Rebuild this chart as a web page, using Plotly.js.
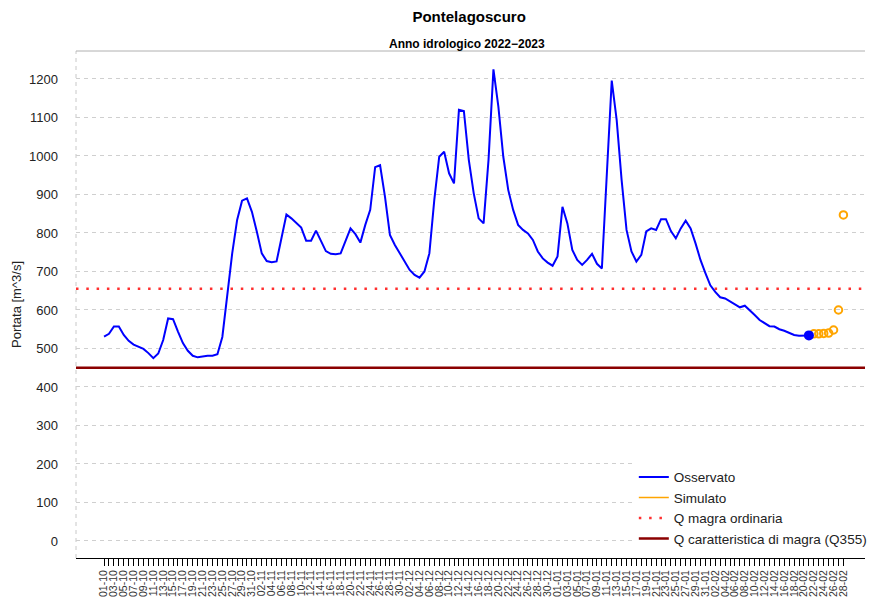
<!DOCTYPE html>
<html><head><meta charset="utf-8">
<script src="https://cdn.plot.ly/plotly-3.0.1.min.js"></script>
<style>html,body{margin:0;padding:0;background:#fff;overflow:hidden}#chart{width:872px;height:603px}</style>
</head><body><div id="chart"></div>
<script>
const days = [
"01-10","02-10","03-10","04-10","05-10","06-10","07-10","08-10","09-10","10-10",
"11-10","12-10","13-10","14-10","15-10","16-10","17-10","18-10","19-10","20-10",
"21-10","22-10","23-10","24-10","25-10","26-10","27-10","28-10","29-10","30-10","31-10",
"01-11","02-11","03-11","04-11","05-11","06-11","07-11","08-11","09-11","10-11",
"11-11","12-11","13-11","14-11","15-11","16-11","17-11","18-11","19-11","20-11",
"21-11","22-11","23-11","24-11","25-11","26-11","27-11","28-11","29-11","30-11",
"01-12","02-12","03-12","04-12","05-12","06-12","07-12","08-12","09-12","10-12",
"11-12","12-12","13-12","14-12","15-12","16-12","17-12","18-12","19-12","20-12",
"21-12","22-12","23-12","24-12","25-12","26-12","27-12","28-12","29-12","30-12","31-12",
"01-01","02-01","03-01","04-01","05-01","06-01","07-01","08-01","09-01","10-01",
"11-01","12-01","13-01","14-01","15-01","16-01","17-01","18-01","19-01","20-01",
"21-01","22-01","23-01","24-01","25-01","26-01","27-01","28-01","29-01","30-01","31-01",
"01-02","02-02","03-02","04-02","05-02","06-02","07-02","08-02","09-02","10-02",
"11-02","12-02","13-02","14-02","15-02","16-02","17-02","18-02","19-02","20-02",
"21-02","22-02","23-02","24-02","25-02","26-02","27-02","28-02"];

const observed = [
531,538,557,557,535,520,510,505,499,488,
475,487,522,578,576,544,514,494,481,477,
479,481,481,485,530,643,747,834,884,890,
855,803,747,727,724,726,791,848,838,825,
814,780,780,806,778,753,746,745,747,778,
812,797,775,821,860,971,976,894,795,769,
747,726,704,691,684,700,747,886,998,1011,
955,929,1120,1117,990,903,838,825,990,1225,
1128,998,912,860,821,808,799,782,752,734,
723,715,739,868,825,756,730,717,730,746,
720,708,940,1196,1094,938,808,752,726,743,
804,812,808,836,836,805,786,812,832,812,
773,730,696,664,647,633,630,622,613,607,
611,600,587,574,565,558,557,550,546,541,
535,533,533,534];

const simulated = [538,538,539,540,548,600,847];

const qMagraOrdinaria = 655;
const qCaratteristica = 450;
const yTicks = [0,100,200,300,400,500,600,700,800,900,1000,1100,1200];

const obsDays = days.slice(0, observed.length);
const simDays = days.slice(observed.length, observed.length + simulated.length);
const tickText = days.map((d, i) => (i % 2 === 0 ? d : ''));

const FONT = 'Liberation Sans, Arial, sans-serif';

const traces = [
  {x: obsDays, y: observed, mode: 'lines', name: 'Osservato',
   line: {color: '#0000ff', width: 2}},
  {x: [null], y: [null], mode: 'lines', name: 'Simulato',
   line: {color: '#ffa500', width: 1.6}},
  {x: simDays, y: simulated, mode: 'markers', showlegend: false,
   marker: {symbol: 'circle-open', size: 7.5, color: '#ffa500', line: {width: 2, color: '#ffa500'}}},
  {x: [obsDays[obsDays.length - 1]], y: [observed[observed.length - 1]], mode: 'markers', showlegend: false,
   marker: {symbol: 'circle', size: 10, color: '#0000ff'}}
];

const layout = {
  width: 872, height: 603,
  margin: {l: 76, r: 0, t: 51, b: 45},
  paper_bgcolor: '#fff', plot_bgcolor: '#fff',
  font: {family: FONT, color: '#222'},
  title: {text: '<b>Pontelagoscuro</b>', font: {size: 15, color: '#000', family: FONT},
          x: 0.538, xanchor: 'center', y: 0.972, yanchor: 'middle'},
  annotations: [{text: '<b>Anno idrologico 2022−2023</b>', xref: 'paper', yref: 'paper',
    x: 0.495, y: 1.0138, xanchor: 'center', yanchor: 'middle', showarrow: false,
    font: {size: 12, color: '#000', family: FONT}}],
  xaxis: {type: 'category', categoryorder: 'array', categoryarray: days,
    range: [-5.69, 154.38], tickmode: 'array', tickvals: days, ticktext: tickText,
    tickangle: -90, tickfont: {size: 10.5, color: '#333'}, ticks: 'outside', ticklen: 7,
    tickcolor: '#000', showgrid: false, showline: true, linecolor: '#000', linewidth: 1,
    zeroline: false, automargin: false},
  yaxis: {range: [-44.2, 1272.7], tickmode: 'array', tickvals: yTicks,
    showgrid: true, gridcolor: '#cfcfcf', griddash: '4px,4px', gridwidth: 1,
    zeroline: false, showline: false, ticks: '', ticklabelstandoff: 17,
    tickfont: {size: 13, color: '#222'}, automargin: false,
    title: {text: 'Portata [m^3/s]', font: {size: 13, color: '#222'}, standoff: 4}},
  shapes: [
    {type: 'line', xref: 'paper', x0: 0, x1: 0, yref: 'paper', y0: 0, y1: 1,
     line: {color: '#c8c8c8', width: 1, dash: '4px,4px'}, layer: 'below'},
    {type: 'line', xref: 'paper', x0: 0, x1: 1, yref: 'paper', y0: 1, y1: 1,
     line: {color: '#b0b0b0', width: 1}, layer: 'below'},
    {type: 'line', xref: 'paper', x0: 0, x1: 1, yref: 'y', y0: qMagraOrdinaria, y1: qMagraOrdinaria,
     line: {color: '#ff3030', width: 2.5, dash: '2.5px,7.8px'}, layer: 'between',
     showlegend: true, name: 'Q magra ordinaria'},
    {type: 'line', xref: 'paper', x0: 0, x1: 1, yref: 'y', y0: qCaratteristica, y1: qCaratteristica,
     line: {color: '#8b0000', width: 2.5}, layer: 'between',
     showlegend: true, name: 'Q caratteristica di magra (Q355)'}
  ],
  legend: {x: 0.707, y: 0.19, xanchor: 'left', yanchor: 'top', bgcolor: '#fff',
    font: {size: 13.5, color: '#222', family: FONT}, traceorder: 'normal'},
  showlegend: true
};

Plotly.newPlot('chart', traces, layout, {displayModeBar: false, staticPlot: true});
</script>
</body></html>
